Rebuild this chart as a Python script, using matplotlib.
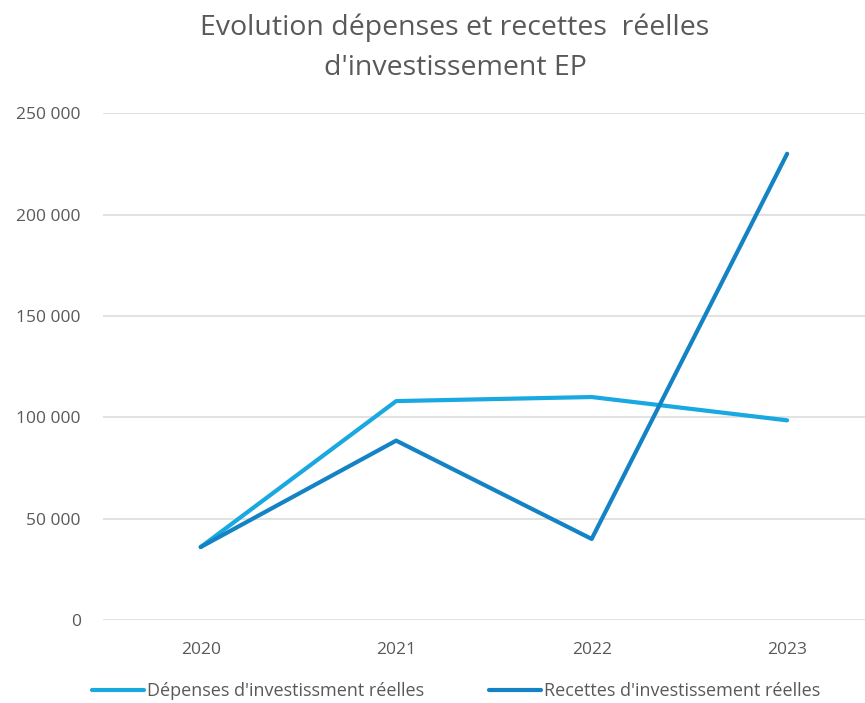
import matplotlib.pyplot as plt
from matplotlib.ticker import FuncFormatter

years = ["2020", "2021", "2022", "2023"]
depenses = [36000, 108000, 110000, 98500]
recettes = [36000, 88500, 40000, 230000]
yticks = [0, 50000, 100000, 150000, 200000, 250000]

plt.rcParams['font.family'] = ['Open Sans', 'DejaVu Sans']
grey = '#595959'

fig = plt.figure(figsize=(8.65, 7.03), dpi=100)
ax = fig.add_axes([0.119, 0.118, 0.904, 0.721])

x = list(range(len(years)))
ax.plot(x, depenses, color='#19A8E0', lw=3, solid_capstyle='round',
        label="Dépenses d'investissment réelles", zorder=3)
ax.plot(x, recettes, color='#1483C5', lw=3, solid_capstyle='round',
        label="Recettes d'investissement réelles", zorder=3)

ax.set_xlim(-0.5, 3.5)
ax.set_ylim(0, 250000)
ax.set_xticks(x)
ax.set_xticklabels(years)
ax.set_yticks(yticks)
ax.yaxis.set_major_formatter(FuncFormatter(lambda v, p: f"{int(v):,}".replace(",", " ")))
ax.grid(axis='y', color='#DDDDDD', lw=1.2)
ax.set_axisbelow(True)
for s in ax.spines.values():
    s.set_visible(False)
ax.tick_params(length=0, colors=grey, labelsize=12.5)
ax.tick_params(axis='x', pad=16)
ax.tick_params(axis='y', pad=16)

fig.text(0.526, 0.932, "Evolution dépenses et recettes  réelles\nd'investissement EP",
         ha='center', va='center', fontsize=20.5, color=grey, linespacing=1.55)

fig.legend(loc='center', bbox_to_anchor=(0.527, 0.017), ncol=2, frameon=False,
           fontsize=13, labelcolor=grey, handlelength=2.9, handletextpad=0.15,
           columnspacing=3.6)

fig.savefig('out.png', dpi=100)
